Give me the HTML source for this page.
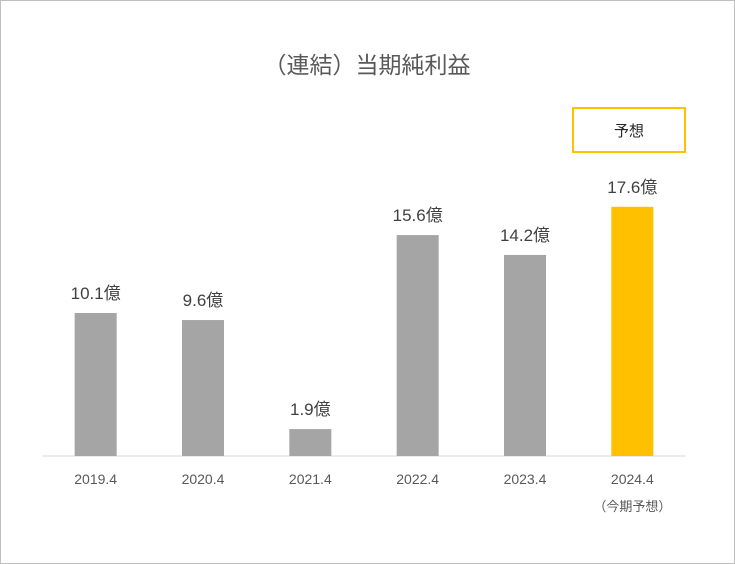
<!DOCTYPE html>
<html><head><meta charset="utf-8">
<style>
body{margin:0;background:#fff;}
#wrap{position:relative;width:735px;height:564px;overflow:hidden;}
svg text{font-family:"Liberation Sans","Noto Sans CJK JP",sans-serif;}
</style></head>
<body>
<div id="wrap">
<svg id="chart" width="735" height="564" xmlns="http://www.w3.org/2000/svg">
<rect x="0.5" y="0.5" width="734" height="563" fill="#fff" stroke="#bfbfbf"/>
<text x="367" y="73" text-anchor="middle" font-size="23" fill="#595959">（連結）当期純利益</text>
<rect x="573" y="108" width="112" height="44" fill="#fff" stroke="#ffc000" stroke-width="2"/>
<text x="629" y="136" text-anchor="middle" font-size="15" fill="#262626">予想</text>
<line x1="42" y1="456" x2="686" y2="456" stroke="#d9d9d9"/>
<g id="bars"></g>
</svg>
</div>
<script>
const categories=["2019.4","2020.4","2021.4","2022.4","2023.4","2024.4"];
const values=[10.1,9.6,1.9,15.6,14.2,17.6];
const valueLabels=["10.1億","9.6億","1.9億","15.6億","14.2億","17.6億"];
const forecastFlags=[false,false,false,false,false,true];
const NS="http://www.w3.org/2000/svg";
const g=document.getElementById('bars');
const x0=42,x1=686,base=456,unitPx=14.16,barW=42;
const step=(x1-x0)/categories.length;
function xCenter(i){return x0+step*(i+0.5);}
function yVal(v){return base-v*unitPx;}
categories.forEach((c,i)=>{
  const cx=xCenter(i),y=yVal(values[i]);
  const r=document.createElementNS(NS,'rect');
  r.setAttribute('x',cx-barW/2);r.setAttribute('y',y);
  r.setAttribute('width',barW);r.setAttribute('height',base-y);
  r.setAttribute('fill',forecastFlags[i]?'#ffc000':'#a5a5a5');
  
  
  g.appendChild(r);
  const t=document.createElementNS(NS,'text');
  t.setAttribute('x',cx);t.setAttribute('y',y-14);
  t.setAttribute('text-anchor','middle');t.setAttribute('font-size','17');t.setAttribute('fill','#404040');
  t.textContent=valueLabels[i];
  
  
  g.appendChild(t);
  const xl=document.createElementNS(NS,'text');
  xl.setAttribute('x',cx);xl.setAttribute('y',484);
  xl.setAttribute('text-anchor','middle');xl.setAttribute('font-size','14');xl.setAttribute('fill','#595959');
  xl.textContent=c;
  
  
  g.appendChild(xl);
  if(forecastFlags[i]){
    const s=document.createElementNS(NS,'text');
    s.setAttribute('x',cx);s.setAttribute('y',511);
    s.setAttribute('text-anchor','middle');s.setAttribute('font-size','13');s.setAttribute('fill','#595959');
    s.textContent='（今期予想）';
    
    
    g.appendChild(s);
  }
});
</script>
</body></html>
